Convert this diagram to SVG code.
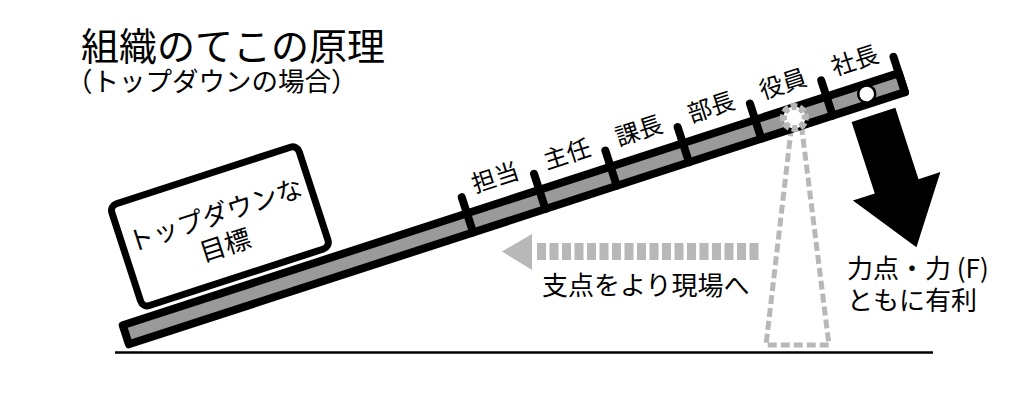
<svg xmlns="http://www.w3.org/2000/svg" width="1024" height="403" viewBox="0 0 1024 403">
<style>
.t{font-family:"Noto Sans CJK JP","Noto Sans",sans-serif;fill:#000}
.tick{stroke:#000;stroke-width:8;stroke-linecap:round}
.dash{fill:none;stroke:#b8b8b8}
</style>
<rect width="1024" height="403" fill="#fff"/>
<g id="title">
<text class="t" x="81" y="60" font-size="38">組織のてこの原理</text>
<text class="t" x="66" y="91" font-size="26.5">（トップダウンの場合）</text>
</g>
<line id="ground" x1="115" y1="352.5" x2="933" y2="352.5" stroke="#000" stroke-width="2.5"/>
<g id="fulcrum-support">
<polygon class="dash" points="792,122 801,122 829,345 766,345" stroke-width="5" stroke-dasharray="9 4" stroke-linejoin="round"/>
</g>
<g id="lever" transform="translate(122,336) rotate(-18)">
<rect x="4" y="-10" width="816" height="20" fill="#9a9a9a" stroke="#000" stroke-width="8" stroke-linejoin="round"/>
<line class="tick" x1="366" y1="-27" x2="366" y2="10"/>
<line class="tick" x1="442" y1="-27" x2="442" y2="10"/>
<line class="tick" x1="517" y1="-27" x2="517" y2="10"/>
<line class="tick" x1="593" y1="-27" x2="593" y2="10"/>
<line class="tick" x1="669" y1="-27" x2="669" y2="10"/>
<line class="tick" x1="744" y1="-27" x2="744" y2="10"/>
<line class="tick" x1="820" y1="-27" x2="820" y2="10"/>
<circle cx="783" cy="0" r="8.5" fill="#fff" stroke="#000" stroke-width="2.5"/>
<text class="t" x="404" y="-27" font-size="24" text-anchor="middle">担当</text>
<text class="t" x="479.5" y="-27" font-size="24" text-anchor="middle">主任</text>
<text class="t" x="555" y="-27" font-size="24" text-anchor="middle">課長</text>
<text class="t" x="631" y="-27" font-size="24" text-anchor="middle">部長</text>
<text class="t" x="706.5" y="-27" font-size="24" text-anchor="middle">役員</text>
<text class="t" x="782" y="-27" font-size="24" text-anchor="middle">社長</text>
</g>
<g id="fulcrum" transform="translate(122,336) rotate(-18)">
<circle cx="707" cy="0" r="11" fill="#fff" stroke="#b8b8b8" stroke-width="7" stroke-dasharray="6 2.6"/>
</g>
<g id="goal" transform="translate(122,336) rotate(-18)">
<rect x="28.5" y="-127.5" width="197" height="107" rx="7" fill="#fff" stroke="#000" stroke-width="7"/>
<text class="t" x="126" y="-77" font-size="26" text-anchor="middle">トップダウンな</text>
<text class="t" x="126" y="-45" font-size="26" text-anchor="middle">目標</text>
</g>
<g id="force" transform="translate(122,336) rotate(-18)">
<polygon points="760,22 806,22 806,97 829,97 783,161 737,97 760,97" fill="#000"/>
</g>
<g id="force-label">
<text class="t" x="847" y="278" font-size="26">力点・力 (F)</text>
<text class="t" x="847" y="310" font-size="26">ともに有利</text>
</g>
<g id="connectors">
<line class="dash" x1="537" y1="251.5" x2="762" y2="251.5" stroke-width="17" stroke-dasharray="9 3.5"/>
<polygon points="502,251.5 532,234 532,270" fill="#b8b8b8"/>
</g>
<g id="shift-label">
<text class="t" x="542" y="295" font-size="26">支点をより現場へ</text>
</g>
</svg>
